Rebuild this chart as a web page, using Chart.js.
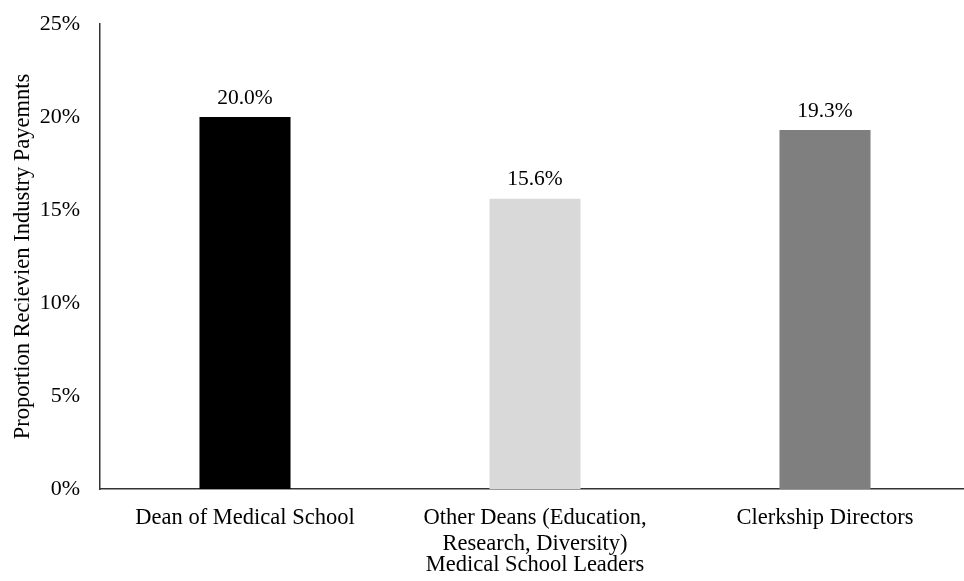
<!DOCTYPE html>
<html>
<head>
<meta charset="utf-8">
<title>Industry payments by leader role</title>
<script src="https://cdn.jsdelivr.net/npm/chart.js@4.4.1/dist/chart.umd.min.js"></script>
<style>
  html, body { margin: 0; padding: 0; background: #fff; overflow: hidden; }
  #wrap { width: 970px; height: 581px; }
</style>
</head>
<body>
<div id="wrap"><canvas id="leadersChart" width="970" height="581"></canvas></div>
<script>
// roles and share receiving payments (%)
const roles = [
    "Dean of Medical School",
    ["Other Deans (Education,", "Research, Diversity)"],
    "Clerkship Directors"
];
const shareReceiving = [20.0, 15.6, 19.3];
const barColors = ["#000000", "#d9d9d9", "#7f7f7f"];
const yTicks = [0, 5, 10, 15, 20, 25];

const serif = "'Liberation Serif', 'Times New Roman', serif";

// value labels above each bar
const barValueLabels = {
    id: "barValueLabels",
    afterDatasetsDraw(chart) {
        const ctx = chart.ctx;
        const meta = chart.getDatasetMeta(0);
        ctx.save();
        ctx.font = "21.5px " + serif;
        ctx.fillStyle = "#000";
        ctx.textAlign = "center";
        ctx.textBaseline = "middle";
        meta.data.forEach(function (bar, i) {
            const v = chart.data.datasets[0].data[i];
            ctx.fillText(v.toFixed(1) + "%", bar.x, bar.y - 19);
        });
        ctx.restore();
    }
};

new Chart(document.getElementById("leadersChart"), {
    type: "bar",
    data: {
        labels: roles,
        datasets: [{
            data: shareReceiving,
            backgroundColor: barColors,
            borderWidth: 0,
            categoryPercentage: 1,
            barPercentage: 0.314
        }]
    },
    options: {
        responsive: false,
        animation: false,
        layout: { padding: { top: 24, right: 0, bottom: 0, left: 0 } },
        plugins: {
            legend: { display: false },
            tooltip: { enabled: false }
        },
        scales: {
            x: {
                grid: { display: false },
                border: { display: true, color: "#333", width: 1.5 },
                ticks: {
                    color: "#000",
                    font: { family: serif, size: 22.5, lineHeight: 1.15 },
                    padding: 8,
                    maxRotation: 0,
                    autoSkip: false
                },
                title: {
                    display: true,
                    text: "Medical School Leaders",
                    color: "#000",
                    font: { family: serif, size: 22.5 },
                    padding: { top: 0, bottom: 2 }
                },
                afterFit: function (scale) {
                    scale.height = 92;
                    scale.paddingLeft = 0;
                    scale.paddingRight = 0;
                }
            },
            y: {
                min: 0,
                max: 25,
                afterBuildTicks: function (scale) {
                    scale.ticks = yTicks.map(function (v) { return { value: v }; });
                },
                grid: { display: false, drawTicks: false },
                border: { display: true, color: "#333", width: 1.5 },
                ticks: {
                    color: "#000",
                    font: { family: serif, size: 22 },
                    padding: 20,
                    callback: function (v) { return v + "%"; }
                },
                title: {
                    display: true,
                    text: "Proportion Recievien Industry Payemnts",
                    color: "#000",
                    font: { family: serif, size: 22.5 },
                    padding: { top: 10, bottom: 0 }
                },
                afterFit: function (scale) {
                    scale.width = 100;
                    scale.paddingTop = 0;
                    scale.paddingBottom = 0;
                }
            }
        }
    },
    plugins: [barValueLabels]
});
</script>
</body>
</html>
